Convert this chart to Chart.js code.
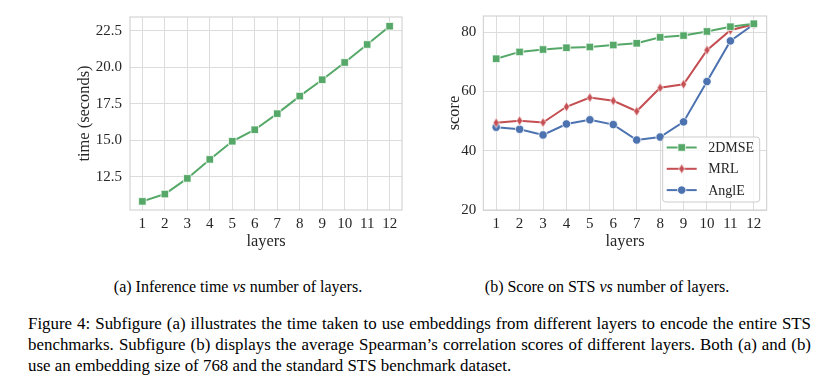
<!DOCTYPE html>
<html>
<head>
<meta charset="utf-8">
<script src="https://cdn.jsdelivr.net/npm/chart.js@4.4.0/dist/chart.umd.min.js"></script>
<style>
  body { margin: 0; background: #fff; width: 834px; height: 386px; position: relative; overflow: hidden;
         font-family: "Liberation Serif", "DejaVu Serif", serif; color: #000; }
  #timeChart { position: absolute; left: 60px; top: 0; }
  #scoreChart { position: absolute; left: 430px; top: 0; }
  .subcap { position: absolute; top: 278px; font-size: 16px; white-space: nowrap; transform: translateX(-50%); }
  .caption { position: absolute; left: 28px; width: 783px; top: 313px; font-size: 16.9px; line-height: 21px; }
  .caption .j { text-align: justify; text-align-last: justify; }
</style>
</head>
<body>
<canvas id="timeChart" width="350" height="262"></canvas>
<canvas id="scoreChart" width="345" height="262"></canvas>
<div class="subcap" style="left:238px">(a) Inference time <i>vs</i> number of layers.</div>
<div class="subcap" style="left:607px">(b) Score on STS <i>vs</i> number of layers.</div>
<div class="caption">
  <div class="j">Figure 4: Subfigure (a) illustrates the time taken to use embeddings from different layers to encode the entire STS</div>
  <div class="j">benchmarks. Subfigure (b) displays the average Spearman’s correlation scores of different layers. Both (a) and (b)</div>
  <div>use an embedding size of 768 and the standard STS benchmark dataset.</div>
</div>
<script>
// values
const layers = [1, 2, 3, 4, 5, 6, 7, 8, 9, 10, 11, 12];
const timeSeconds = [10.82, 11.32, 12.39, 13.69, 14.93, 15.72, 16.82, 18.02, 19.14, 20.32, 21.55, 22.8];
const score2DMSE = [71.0, 73.3, 74.1, 74.7, 74.95, 75.6, 76.2, 78.2, 78.8, 80.2, 81.8, 82.8];
const scoreMRL = [49.4, 50.1, 49.5, 54.8, 57.9, 56.8, 53.3, 61.2, 62.4, 73.9, 80.6, 82.6];
const scoreAnglE = [47.9, 47.2, 45.3, 49.0, 50.4, 48.8, 43.6, 44.6, 49.7, 63.3, 77.0, 82.6];

const GREEN = '#55A868', RED = '#C44E52', BLUE = '#4C72B0';
const GRID = '#dcdcdc', FRAME = '#cccccc', TEXT = '#262626';
const SERIF = '"Liberation Serif", "DejaVu Serif", serif';

Chart.defaults.font.family = SERIF;
Chart.defaults.color = TEXT;

function toPoints(ys) {
    return layers.map((x, i) => ({ x: x, y: ys[i] }));
}

// matplotlib style thin diamond marker
function thinDiamond(color) {
    const c = document.createElement('canvas');
    c.width = 9; c.height = 13;
    const g = c.getContext('2d');
    g.beginPath();
    g.moveTo(4.5, 1.5); g.lineTo(7.5, 6.5); g.lineTo(4.5, 11.5); g.lineTo(1.5, 6.5);
    g.closePath();
    g.fillStyle = color; g.fill();
    g.strokeStyle = '#fff'; g.lineWidth = 0.75; g.stroke();
    return c;
}

function series(label, ys, color, style, radius) {
    return {
        label: label,
        data: toPoints(ys),
        borderColor: color,
        backgroundColor: color,
        borderWidth: 2,
        pointStyle: style,
        pointRadius: radius,
        pointBorderColor: '#fff',
        pointBorderWidth: 0.75,
        pointBackgroundColor: color
    };
}

// light grey box round the plot, like the seaborn whitegrid spines
const framePlugin = {
    id: 'frame',
    beforeDatasetsDraw(chart) {
        const a = chart.chartArea, ctx = chart.ctx;
        ctx.save();
        ctx.strokeStyle = FRAME;
        ctx.lineWidth = 1;
        ctx.strokeRect(a.left, a.top, a.right - a.left, a.bottom - a.top);
        ctx.restore();
    }
};

// legend drawn inside the plot, lower right
const innerLegend = {
    id: 'innerLegend',
    afterDatasetsDraw(chart) {
        const a = chart.chartArea, ctx = chart.ctx;
        const w = 97, h = 65;
        const x0 = a.right - 7 - w, y0 = a.bottom - 8 - h;
        ctx.save();
        ctx.beginPath();
        ctx.roundRect(x0, y0, w, h, 3);
        ctx.fillStyle = 'rgba(255,255,255,0.8)';
        ctx.fill();
        ctx.strokeStyle = FRAME;
        ctx.lineWidth = 1;
        ctx.stroke();
        chart.data.datasets.forEach((ds, i) => {
            const y = y0 + 10.5 + i * 21.3;
            ctx.strokeStyle = ds.borderColor;
            ctx.lineWidth = 2;
            ctx.beginPath();
            ctx.moveTo(x0 + 4, y);
            ctx.lineTo(x0 + 34, y);
            ctx.stroke();
            ctx.fillStyle = ds.pointBackgroundColor;
            ctx.strokeStyle = '#fff';
            ctx.lineWidth = 0.75;
            Chart.helpers.drawPoint(ctx, { pointStyle: ds.pointStyle, radius: ds.pointRadius, rotation: 0, borderWidth: 0.75 }, x0 + 19, y);
            ctx.fillStyle = TEXT;
            ctx.font = '14px ' + SERIF;
            ctx.textBaseline = 'middle';
            ctx.textAlign = 'left';
            ctx.fillText(ds.label, x0 + 45.5, y + 1);
        });
        ctx.restore();
    }
};

function makeScales(yMin, yMax, yStep, yTitle, yWidth, yPad, fmt) {
    return {
        x: {
            type: 'linear',
            min: 0.45,
            max: 12.55,
            afterFit: s => { s.height = 41.5; },
            ticks: { stepSize: 1, includeBounds: false, padding: 5, font: { size: 15 }, color: TEXT },
            grid: { color: GRID, drawTicks: false },
            border: { display: false },
            title: { display: true, text: 'layers', font: { size: 16.4 }, color: TEXT, padding: 0 }
        },
        y: {
            min: yMin,
            max: yMax,
            afterFit: s => { s.width = yWidth; },
            ticks: { stepSize: yStep, includeBounds: false, padding: yPad, font: { size: 15 }, color: TEXT, callback: fmt },
            grid: { color: GRID, drawTicks: false },
            border: { display: false },
            title: { display: true, text: yTitle, font: { size: 16.4 }, color: TEXT, padding: 0 }
        }
    };
}

// (a) inference time
new Chart(document.getElementById('timeChart').getContext('2d'), {
    type: 'line',
    data: { datasets: [series('time', timeSeconds, GREEN, 'rect', 5.3)] },
    options: {
        responsive: false,
        animation: false,
        layout: { padding: { left: 15, right: 8, top: 16, bottom: 10.5 } },
        plugins: { legend: { display: false }, tooltip: { enabled: false } },
        scales: makeScales(10.23, 23.43, 2.5, 'time (seconds)', 55, 8, v => v.toFixed(1))
    },
    plugins: [framePlugin]
});

// (b) STS score
new Chart(document.getElementById('scoreChart').getContext('2d'), {
    type: 'line',
    data: {
        datasets: [
            series('2DMSE', score2DMSE, GREEN, 'rect', 5.3),
            series('MRL', scoreMRL, RED, thinDiamond(RED), 5),
            series('AnglE', scoreAnglE, BLUE, 'circle', 4.2)
        ]
    },
    options: {
        responsive: false,
        animation: false,
        layout: { padding: { left: 15, right: 8.3, top: 15.7, bottom: 10.5 } },
        plugins: { legend: { display: false }, tooltip: { enabled: false } },
        scales: makeScales(20, 85.4, 20, 'score', 38.3, 7, v => v.toFixed(0))
    },
    plugins: [framePlugin, innerLegend]
});
</script>
</body>
</html>
